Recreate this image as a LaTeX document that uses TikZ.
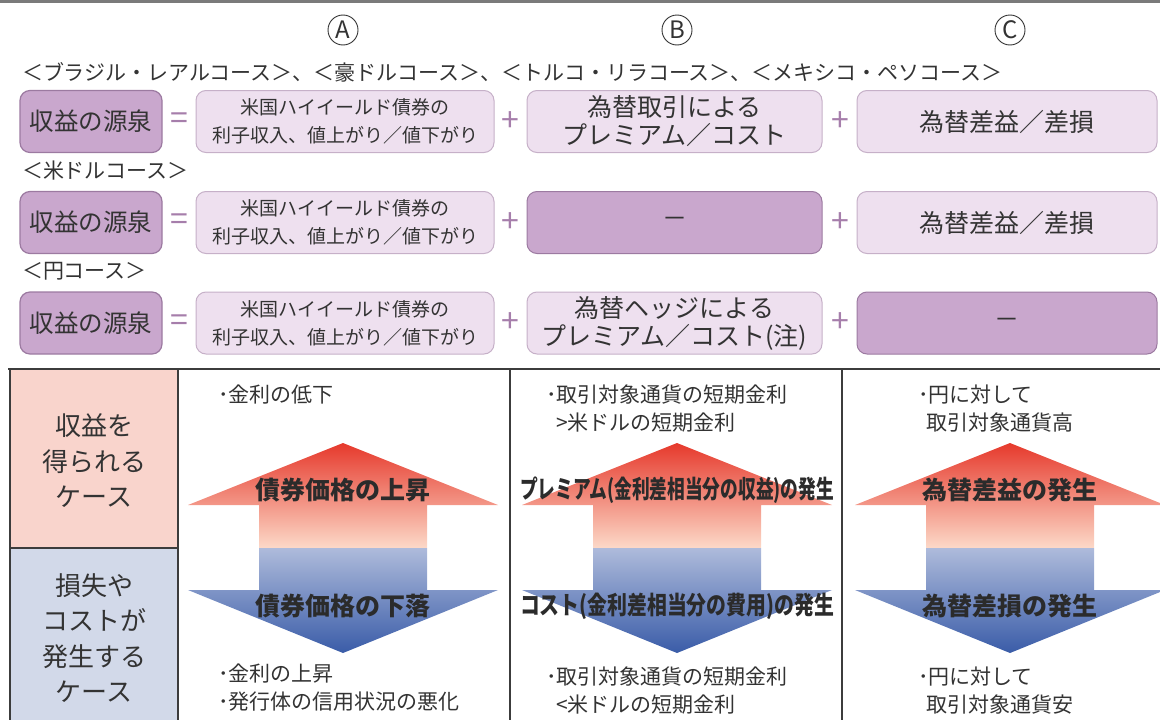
\documentclass[tikz,border=0pt]{standalone}
\usepackage{fontspec}
\setmainfont{Noto Sans CJK JP}
\usetikzlibrary{positioning}

\definecolor{inkgray}{HTML}{333333}
\definecolor{labelink}{HTML}{2B2B2B}
\definecolor{srcfill}{HTML}{C9A7CD}
\definecolor{srcedge}{HTML}{9C7AA1}
\definecolor{termfill}{HTML}{EEE0EF}
\definecolor{termedge}{HTML}{C6B0C8}
\definecolor{opcolor}{HTML}{A67EAB}
\definecolor{gainfill}{HTML}{F9D4CC}
\definecolor{lossfill}{HTML}{D2D9E9}
\definecolor{rulegray}{HTML}{3C3C3C}
\definecolor{topbar}{HTML}{7A7A7A}
\definecolor{uptop}{HTML}{E6392C}
\definecolor{upmid}{HTML}{F07B5F}
\definecolor{upbot}{HTML}{FCD9C8}
\definecolor{dntop}{HTML}{AEBBDB}
\definecolor{dnmid}{HTML}{6482C2}
\definecolor{dnbot}{HTML}{3A5CA8}

\tikzset{
    font = \fontsize{20}{24}\selectfont,
    every node/.style = {
        text = inkgray,
        inner sep = 0pt,
        outer sep = 0pt
    },
    srcbox/.style = {
        draw = srcedge,
        fill = srcfill,
        line width = 1.2pt,
        rounded corners = 10pt,
        minimum width = 142pt,
        minimum height = 62pt,
        font = \fontsize{24.5}{28}\selectfont
    },
    termbox/.style = {
        draw = termedge,
        fill = termfill,
        line width = 1pt,
        rounded corners = 10pt,
        minimum height = 62pt,
        align = center,
        font = \fontsize{25}{28}\selectfont
    },
    bondbox/.style = {
        termbox,
        minimum width = 298pt,
        font = \fontsize{19}{28}\selectfont
    },
    nilbox/.style = {
        termbox,
        draw = srcedge,
        fill = srcfill
    },
    opsign/.style = {
        text = opcolor,
        font = \fontsize{32}{32}\selectfont
    },
    course/.style = {
        anchor = west,
        font = \fontsize{21}{24}\selectfont
    },
    casenote/.style = {
        anchor = west,
        align = left,
        font = \fontsize{21}{28}\selectfont
    },
    casehead/.style = {
        align = center,
        font = \fontsize{26}{35.5}\selectfont
    },
    arrowlabel/.style = {
        text = labelink,
        font = \bfseries\fontsize{25}{28}\selectfont
    },
    colmark/.style = {
        circle,
        draw = inkgray,
        line width = 0.9pt,
        minimum size = 30pt,
        font = \fontsize{24}{24}\selectfont
    },
    tableline/.style = {
        line width = 2pt,
        draw = rulegray
    }
}

\begin{document}
\begin{tikzpicture}[x=1pt,y=-1pt]
    \useasboundingbox (0,0) rectangle (1160,720);
    \fill[topbar] (0,0) rectangle (1160,3);
    % column marks
    \node (markA) at (343,30) [colmark]{A};
    \node (markB) at (677,30) [colmark]{B};
    \node (markC) at (1010,30) [colmark]{C};
    % course rows
    \node (courseMain) at (22,72) [course]{＜ブラジル・レアルコース＞、＜豪ドルコース＞、＜トルコ・リラコース＞、＜メキシコ・ペソコース＞};
    \node (srcMain) at (91,121.5) [srcbox]{収益の源泉};
    \node (eqMain) at (179,121.5) [opsign]{=};
    \node (bondMain) at (345,121.5) [bondbox]{米国ハイイールド債券の\\利子収入、値上がり／値下がり};
    \node (plusMainB) at (510,121.5) [opsign]{+};
    \node (fxMain) at (674.5,121.5) [termbox, minimum width=295pt]{為替取引による\\プレミアム／コスト};
    \node (plusMainC) at (840,121.5) [opsign]{+};
    \node (gainMain) at (1007,121.5) [termbox, minimum width=300pt]{為替差益／差損};

    \node (courseUsd) at (22,171) [course]{＜米ドルコース＞};
    \node (srcUsd) at (91,222.5) [srcbox]{収益の源泉};
    \node (eqUsd) at (179,222.5) [opsign]{=};
    \node (bondUsd) at (345,222.5) [bondbox]{米国ハイイールド債券の\\利子収入、値上がり／値下がり};
    \node (plusUsdB) at (510,222.5) [opsign]{+};
    \node (fxUsd) at (674.5,222.5) [nilbox, minimum width=295pt]{－};
    \node (plusUsdC) at (840,222.5) [opsign]{+};
    \node (gainUsd) at (1007,222.5) [termbox, minimum width=300pt]{為替差益／差損};

    \node (courseYen) at (22,271) [course]{＜円コース＞};
    \node (srcYen) at (91,323) [srcbox]{収益の源泉};
    \node (eqYen) at (179,323) [opsign]{=};
    \node (bondYen) at (345,323) [bondbox]{米国ハイイールド債券の\\利子収入、値上がり／値下がり};
    \node (plusYenB) at (510,323) [opsign]{+};
    \node (fxYen) at (674.5,323) [termbox, minimum width=295pt]{為替ヘッジによる\\プレミアム／コスト(注)};
    \node (plusYenC) at (840,323) [opsign]{+};
    \node (gainYen) at (1007,323) [nilbox, minimum width=300pt]{－};

    % case cells
    \fill[gainfill] (10,369) rectangle (178,548);
    \fill[lossfill] (10,548) rectangle (178,730);
    \node (gainHead) at (94,461) [casehead]{収益を\\得られる\\ケース};
    \node (lossHead) at (94,638) [casehead]{損失や\\コストが\\発生する\\ケース};

    % arrows
    \shade[top color=uptop, middle color=upmid, bottom color=upbot]
        (343,443) -- (498,505) -- (427,505) -- (427,548) -- (259,548) -- (259,505) -- (188,505) -- cycle;
    \shade[top color=dntop, middle color=dnmid, bottom color=dnbot]
        (259,548) -- (427,548) -- (427,590) -- (498,590) -- (343,653) -- (188,590) -- (259,590) -- cycle;
    \shade[top color=uptop, middle color=upmid, bottom color=upbot]
        (677,443) -- (832,505) -- (761,505) -- (761,548) -- (593,548) -- (593,505) -- (522,505) -- cycle;
    \shade[top color=dntop, middle color=dnmid, bottom color=dnbot]
        (593,548) -- (761,548) -- (761,590) -- (832,590) -- (677,653) -- (522,590) -- (593,590) -- cycle;
    \shade[top color=uptop, middle color=upmid, bottom color=upbot]
        (1010,443) -- (1165,505) -- (1094,505) -- (1094,548) -- (926,548) -- (926,505) -- (855,505) -- cycle;
    \shade[top color=dntop, middle color=dnmid, bottom color=dnbot]
        (926,548) -- (1094,548) -- (1094,590) -- (1165,590) -- (1010,653) -- (855,590) -- (926,590) -- cycle;
    \node (riseA) at (343,490) [arrowlabel]{債券価格の上昇};
    \node (fallA) at (343,606) [arrowlabel]{債券価格の下落};
    \node (riseB) at (677,490) [arrowlabel]{\resizebox{314pt}{\height}{プレミアム(金利差相当分の収益)の発生}};
    \node (fallB) at (677,606) [arrowlabel]{\resizebox{314pt}{\height}{コスト(金利差相当分の費用)の発生}};
    \node (riseC) at (1010,490) [arrowlabel]{為替差益の発生};
    \node (fallC) at (1010,606) [arrowlabel]{為替差損の発生};

    % case notes
    \node (noteUpA) at (218,395) [casenote]{･金利の低下};
    \node (noteDnA) at (218,688) [casenote]{･金利の上昇\\･発行体の信用状況の悪化};
    \node (noteUpB) at (546,409) [casenote]{･取引対象通貨の短期金利\\\hspace*{10pt}>米ドルの短期金利};
    \node (noteDnB) at (546,691) [casenote]{･取引対象通貨の短期金利\\\hspace*{10pt}<米ドルの短期金利};
    \node (noteUpC) at (918,409) [casenote]{･円に対して\\\hspace*{8pt}取引対象通貨高};
    \node (noteDnC) at (918,691) [casenote]{･円に対して\\\hspace*{8pt}取引対象通貨安};

    % table rules
    \draw[tableline] (8,369) -- (1160,369);
    \draw[tableline] (10,369) -- (10,720);
    \draw[tableline] (178,369) -- (178,720);
    \draw[tableline] (510,369) -- (510,720);
    \draw[tableline] (842,369) -- (842,720);
    \draw[tableline] (10,548) -- (178,548);
\end{tikzpicture}
\end{document}
